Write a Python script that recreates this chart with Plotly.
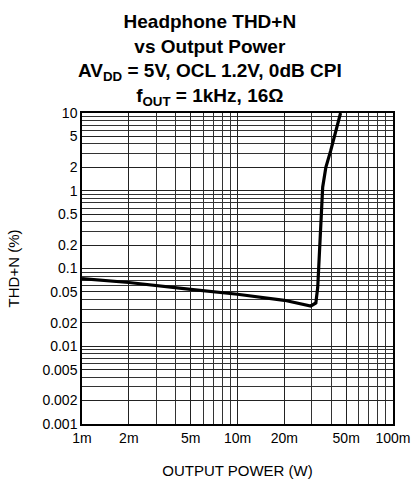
import plotly.graph_objects as go

# Data (output power in W, THD+N in %)
power_w = [0.001, 0.002, 0.005, 0.010, 0.020, 0.0296, 0.0319, 0.0328, 0.0353, 0.037, 0.0398, 0.046]
thd_pct = [0.074, 0.066, 0.054, 0.0466, 0.039, 0.033, 0.036, 0.057, 1.11, 2.0, 3.3, 10.0]

x_tickvals = [0.001, 0.002, 0.005, 0.01, 0.02, 0.05, 0.1]
x_ticktext = ["1m", "2m", "5m", "10m", "20m", "50m", "100m"]
y_tickvals = [0.001, 0.002, 0.005, 0.01, 0.02, 0.05, 0.1, 0.2, 0.5, 1, 2, 5, 10]
y_ticktext = ["0.001", "0.002", "0.005", "0.01", "0.02", "0.05", "0.1", "0.2", "0.5", "1", "2", "5", "10"]

x_minor = [m * 10 ** e for e in (-3, -2) for m in range(1, 10)] + [0.1]
y_minor = [m * 10 ** e for e in (-3, -2, -1, 0) for m in range(1, 10)] + [10]

title_text = ("<b>Headphone THD+N<br>vs Output Power<br>"
              "AV<sub>DD</sub> = 5V, OCL 1.2V, 0dB CPI<br>"
              "f<sub>OUT</sub> = 1kHz, 16Ω</b>")

FONT = "Liberation Sans, Arial, sans-serif"

fig = go.Figure()
fig.add_trace(go.Scatter(
    x=power_w, y=thd_pct, mode="lines",
    line=dict(color="black", width=3.2),
    showlegend=False,
))

fig.update_layout(
    width=414, height=480,
    margin=dict(l=82, r=21, t=113, b=56),
    paper_bgcolor="white", plot_bgcolor="white",
    font=dict(family=FONT, color="black", size=14),
    annotations=[dict(
        text=title_text, showarrow=False,
        xref="paper", yref="paper",
        x=0.4116, y=1.334, xanchor="center", yanchor="top",
        align="center",
        font=dict(family=FONT, size=19, color="black"),
    )],
)

fig.update_xaxes(
    type="log", range=[-3, -1], automargin=False,
    tickvals=x_tickvals, ticktext=x_ticktext, ticks="",
    showgrid=True, gridcolor="#222", gridwidth=1,
    minor=dict(tickvals=x_minor, showgrid=True, gridcolor="#333", gridwidth=1, ticks=""),
    showline=True, linecolor="black", linewidth=1.5, mirror=True,
    title=dict(text="OUTPUT POWER (W)", standoff=21, font=dict(size=15)),
    tickfont=dict(size=14),
)
fig.update_yaxes(
    type="log", range=[-3, 1], automargin=False,
    tickvals=y_tickvals, ticktext=y_ticktext, ticks="",
    showgrid=True, gridcolor="#222", gridwidth=1,
    minor=dict(tickvals=y_minor, showgrid=True, gridcolor="#333", gridwidth=1, ticks=""),
    showline=True, linecolor="black", linewidth=1.5, mirror=True,
    title=dict(text="THD+N (%)", standoff=19, font=dict(size=15)),
    tickfont=dict(size=14),
)

fig.write_html(
    "out.html",
    config={"displayModeBar": False},
    post_script="document.body.style.margin='0';document.body.style.overflow='hidden';",
)
